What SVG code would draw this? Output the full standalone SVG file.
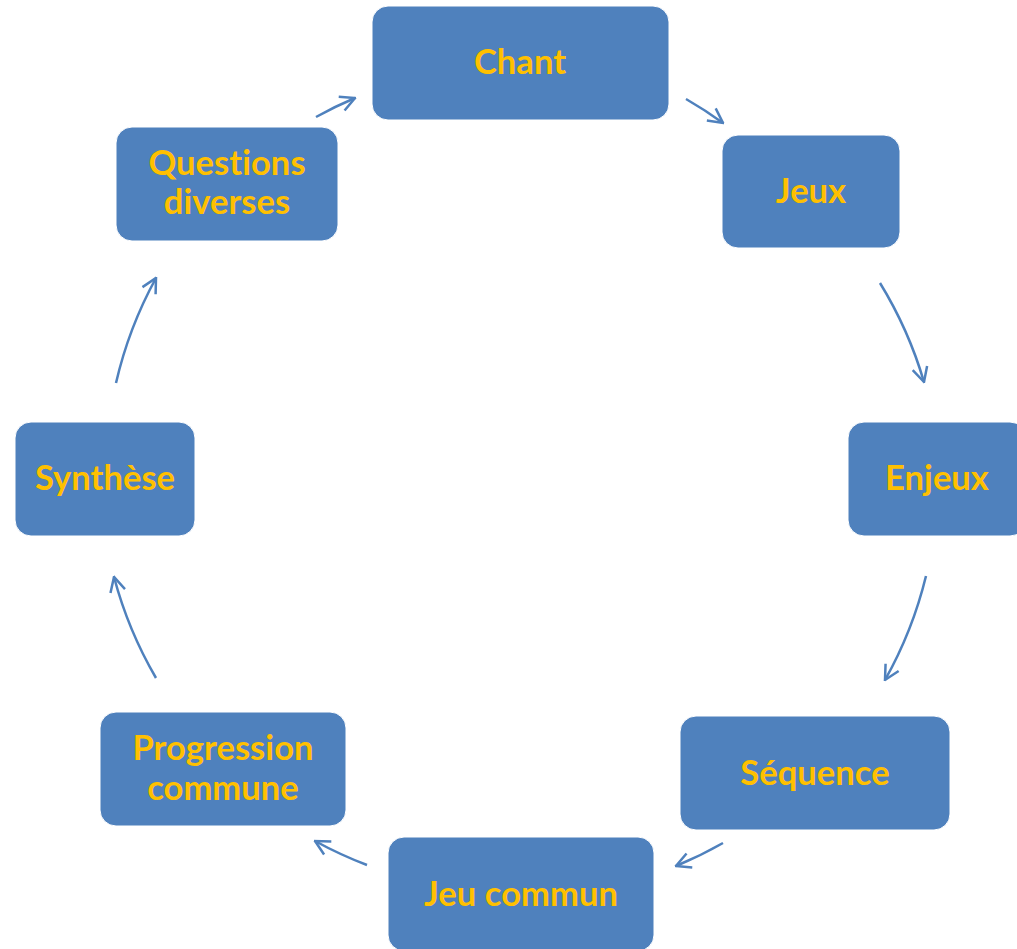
<svg xmlns="http://www.w3.org/2000/svg" width="1017" height="949" viewBox="0 0 1017 949">
<style>
.box{fill:#4F81BD;stroke:#ffffff;stroke-width:1}
.lbl{font-family:Lato,"Open Sans","Liberation Sans",sans-serif;font-weight:bold;font-size:34.5px;fill:#FFC000;text-anchor:middle;font-variant-ligatures:none;font-feature-settings:"liga" 0;letter-spacing:0.05px}
.con{fill:none;stroke:#4F81BD;stroke-width:2.5;marker-end:url(#ah)}
</style>
<defs>
<marker id="ah" viewBox="0 0 18 18" refX="16.5" refY="9" markerWidth="18" markerHeight="18" markerUnits="userSpaceOnUse" orient="auto">
<path d="M2,1.5 L16.5,9 L2,16.5" fill="none" stroke="#4F81BD" stroke-width="2.5"/>
</marker>
</defs>
<rect width="1017" height="949" fill="#ffffff"/>
<g id="connectors">
<path class="con" d="M316,117 A410,410 0 0 1 355,98"/>
<path class="con" d="M686,99 A410,410 0 0 1 723,123"/>
<path class="con" d="M880,283 A410,410 0 0 1 924,382"/>
<path class="con" d="M926,576 A410,410 0 0 1 885,680"/>
<path class="con" d="M723,843 A410,410 0 0 1 676,866"/>
<path class="con" d="M367,865 A410,410 0 0 1 315,841"/>
<path class="con" d="M156,678 A410,410 0 0 1 114,577"/>
<path class="con" d="M116,383 A410,410 0 0 1 156,278"/>
</g>
<g id="chant"><rect class="box" x="372" y="6" width="297" height="114" rx="16"/><text class="lbl" x="520" y="74">Chant</text></g>
<g id="jeux"><rect class="box" x="722" y="135" width="178" height="113" rx="16"/><text class="lbl" x="811" y="203">Jeux</text></g>
<g id="enjeux"><rect class="box" x="848" y="422" width="178" height="114" rx="16"/><text class="lbl" x="937" y="490">Enjeux</text></g>
<g id="sequence"><rect class="box" x="680" y="716" width="270" height="114" rx="16"/><text class="lbl" x="815" y="785">Séquence</text></g>
<g id="jeu-commun"><rect class="box" x="388" y="837" width="266" height="114" rx="16"/><text class="lbl" x="521" y="906">Jeu commun</text></g>
<g id="progression-commune"><rect class="box" x="100" y="712" width="246" height="114" rx="16"/><text class="lbl" x="223" y="760">Progression</text><text class="lbl" x="223" y="800">commune</text></g>
<g id="synthese"><rect class="box" x="15" y="422" width="180" height="114" rx="16"/><text class="lbl" x="105" y="490">Synthèse</text></g>
<g id="questions-diverses"><rect class="box" x="116" y="127" width="222" height="114" rx="16"/><text class="lbl" x="227" y="175">Questions</text><text class="lbl" x="227" y="214">diverses</text></g>
</svg>
